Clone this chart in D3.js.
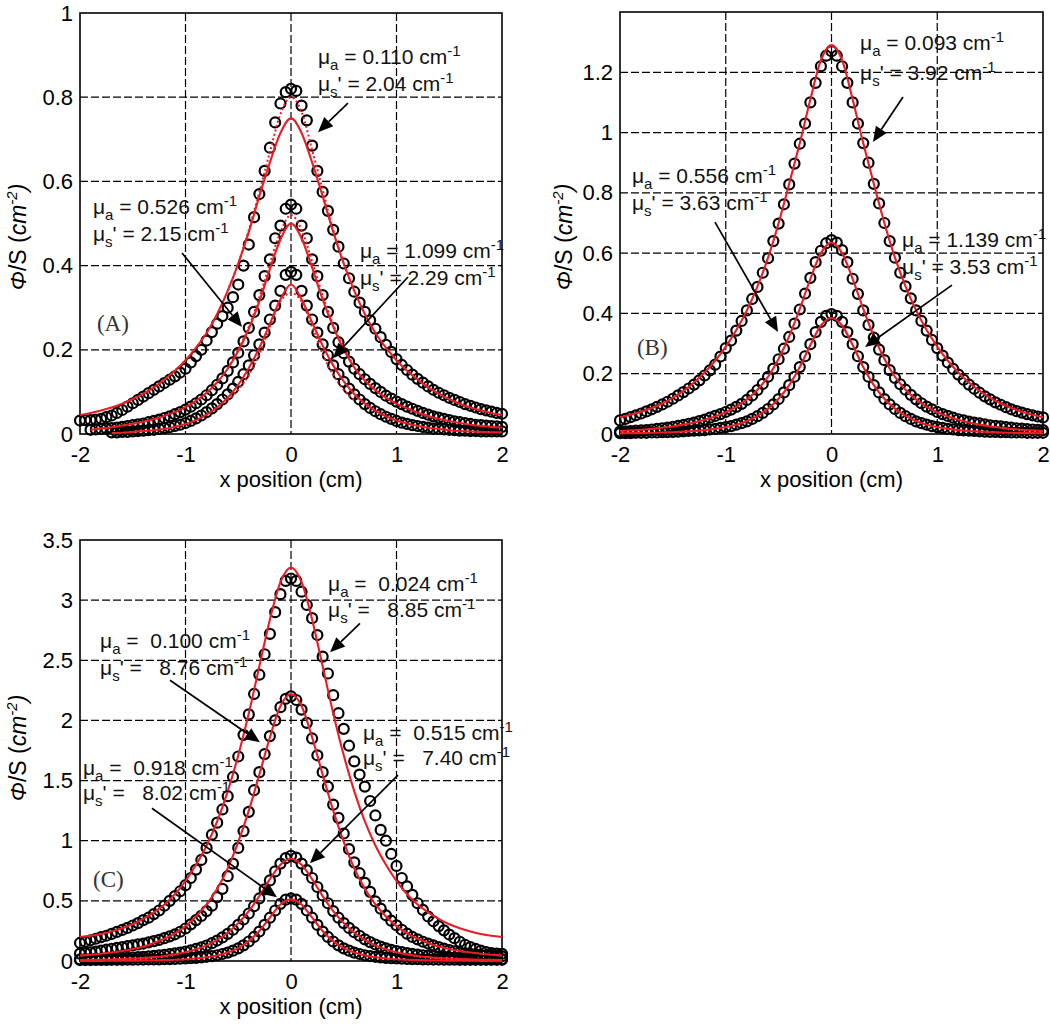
<!DOCTYPE html>
<html><head><meta charset="utf-8">
<script src="https://cdn.jsdelivr.net/npm/d3@7"></script>
<style>body{margin:0;background:#fff}svg{display:block}text{white-space:pre}</style>
</head><body>
<svg id="chart" width="1050" height="1024"></svg>
<script>
// ---------- x positions (cm) ----------
const xsDots = [-2,-1.95,-1.9,-1.85,-1.8,-1.75,-1.7,-1.65,-1.6,-1.55,-1.5,-1.45,-1.4,-1.35,-1.3,-1.25,-1.2,-1.15,-1.1,-1.05,-1,-0.95,-0.9,-0.85,-0.8,-0.75,-0.7,-0.65,-0.6,-0.55,-0.5,-0.45,-0.4,-0.35,-0.3,-0.25,-0.2,-0.15,-0.1,-0.05,0,0.05,0.1,0.15,0.2,0.25,0.3,0.35,0.4,0.45,0.5,0.55,0.6,0.65,0.7,0.75,0.8,0.85,0.9,0.95,1,1.05,1.1,1.15,1.2,1.25,1.3,1.35,1.4,1.45,1.5,1.55,1.6,1.65,1.7,1.75,1.8,1.85,1.9,1.95,2];
const xsLine = [-2,-1.9,-1.8,-1.7,-1.6,-1.5,-1.4,-1.3,-1.2,-1.1,-1,-0.9,-0.8,-0.7,-0.6,-0.5,-0.4,-0.3,-0.2,-0.1,0,0.1,0.2,0.3,0.4,0.5,0.6,0.7,0.8,0.9,1,1.1,1.2,1.3,1.4,1.5,1.6,1.7,1.8,1.9,2];
const xsDotted = [-0.6,-0.5,-0.4,-0.3,-0.2,-0.1,0,0.1,0.2,0.3,0.4,0.5,0.6];

// ---------- tick labels ----------
const xTicks = [-2,-1,0,1,2];
const yTicksA = [0,0.2,0.4,0.6,0.8,1];
const yTicksB = [0,0.2,0.4,0.6,0.8,1,1.2];
const yTicksC = [0,0.5,1,1.5,2,2.5,3,3.5];

// ---------- Panel A : measured (circles) ----------
const measA1 = [0.032,0.033,0.033,0.034,0.036,0.04,0.044,0.05,0.057,0.065,0.073,0.081,0.089,0.097,0.105,0.113,0.121,0.129,0.137,0.146,0.155,0.17,0.185,0.2,0.222,0.242,0.262,0.28,0.3,0.325,0.355,0.4,0.45,0.515,0.57,0.625,0.68,0.74,0.785,0.812,
 0.82,
 0.815,0.78,0.745,0.685,0.625,0.575,0.53,0.485,0.445,0.405,0.37,0.338,0.312,0.29,0.27,0.25,0.23,0.212,0.195,0.178,0.164,0.152,0.141,0.131,0.122,0.113,0.105,0.098,0.092,0.086,0.081,0.076,0.071,0.067,0.063,0.059,0.056,0.053,0.05,0.048];
const measA2 = [null,null,0.01,0.011,0.012,0.013,0.014,0.015,0.017,0.019,0.021,0.023,0.025,0.028,0.031,0.034,0.038,0.042,0.047,0.052,0.058,0.065,0.073,0.082,0.092,0.104,0.117,0.132,0.15,0.17,0.193,0.22,0.252,0.29,0.33,0.375,0.415,0.465,0.495,0.535,
 0.545,
 0.535,0.495,0.465,0.415,0.375,0.33,0.29,0.252,0.218,0.192,0.172,0.155,0.142,0.13,0.119,0.109,0.1,0.091,0.084,0.077,0.071,0.065,0.06,0.055,0.05,0.046,0.042,0.039,0.036,0.033,0.03,0.028,0.026,0.024,0.022,0.021,0.02,0.019,0.018,0.017];
const measA3 = [null,null,null,null,null,null,0.004,0.004,0.005,0.005,0.006,0.007,0.008,0.009,0.01,0.012,0.014,0.016,0.019,0.022,0.026,0.031,0.037,0.044,0.052,0.061,0.071,0.082,0.094,0.108,0.124,0.142,0.163,0.187,0.213,0.241,0.272,0.305,0.34,0.378,
 0.385,
 0.378,0.34,0.305,0.272,0.241,0.213,0.187,0.163,0.142,0.124,0.108,0.094,0.082,0.071,0.062,0.054,0.047,0.041,0.036,0.031,0.027,0.024,0.021,0.019,0.017,0.015,0.013,0.012,0.011,0.01,0.009,0.008,0.008,0.007,0.007,0.006,0.006,0.006,0.006,0.006];
// Panel A : model (red solid)
const fitA1 = [0.045,0.05,0.056,0.063,0.072,0.083,0.096,0.111,0.129,0.15,0.175,0.205,0.24,0.285,0.34,0.405,0.48,0.565,0.645,0.715,0.75,0.715,0.645,0.565,0.48,0.405,0.34,0.285,0.24,0.205,0.175,0.15,0.129,0.111,0.096,0.083,0.072,0.063,0.056,0.05,0.045];
const fitA2 = [null,0.01,0.013,0.016,0.02,0.024,0.029,0.035,0.043,0.052,0.064,0.079,0.098,0.123,0.155,0.197,0.25,0.315,0.392,0.462,0.5,0.465,0.395,0.32,0.255,0.2,0.158,0.127,0.104,0.086,0.072,0.061,0.051,0.043,0.036,0.031,0.026,0.022,0.019,0.017,0.015];
const fitA3 = [null,null,null,0.002,0.003,0.005,0.007,0.009,0.012,0.017,0.024,0.033,0.046,0.063,0.086,0.117,0.157,0.205,0.262,0.32,0.355,0.32,0.265,0.21,0.163,0.125,0.095,0.072,0.055,0.042,0.032,0.025,0.019,0.015,0.012,0.009,0.007,0.006,0.005,0.004,0.004];
// Panel A : model (red dotted)
const dotA1 = [0.34,0.405,0.485,0.575,0.67,0.76,0.8,0.765,0.675,0.58,0.485,0.405,0.34];
const dotA2 = [0.157,0.2,0.255,0.325,0.405,0.48,0.52,0.485,0.41,0.33,0.26,0.205,0.16];
const dotA3 = [0.08,0.105,0.14,0.19,0.255,0.315,0.335,0.315,0.255,0.19,0.14,0.105,0.08];

// ---------- Panel B ----------
const measB1 = [0.045,0.05,0.056,0.062,0.068,0.075,0.082,0.09,0.098,0.107,0.117,0.128,0.139,0.151,0.164,0.178,0.194,0.211,0.23,0.257,0.285,0.31,0.343,0.375,0.41,0.448,0.488,0.535,0.583,0.64,0.698,0.762,0.828,0.897,0.963,1.03,1.1,1.165,1.22,1.255,
 1.27,
 1.255,1.22,1.165,1.1,1.03,0.965,0.9,0.83,0.765,0.7,0.64,0.585,0.535,0.49,0.45,0.41,0.375,0.343,0.312,0.285,0.26,0.237,0.216,0.197,0.18,0.164,0.15,0.137,0.125,0.115,0.105,0.097,0.089,0.082,0.076,0.071,0.066,0.062,0.058,0.055];
const measB2 = [0.008,0.009,0.01,0.011,0.012,0.013,0.015,0.017,0.019,0.021,0.024,0.027,0.03,0.034,0.038,0.043,0.048,0.054,0.06,0.066,0.073,0.081,0.09,0.1,0.113,0.128,0.146,0.166,0.19,0.217,0.248,0.283,0.322,0.366,0.413,0.466,0.518,0.57,0.608,0.633,
 0.643,
 0.635,0.61,0.57,0.515,0.465,0.41,0.362,0.32,0.28,0.245,0.212,0.186,0.165,0.147,0.13,0.115,0.102,0.091,0.082,0.073,0.066,0.06,0.054,0.049,0.045,0.041,0.038,0.035,0.032,0.029,0.027,0.025,0.023,0.021,0.019,0.018,0.016,0.015,0.014,0.013];
const measB3 = [0.003,0.003,0.003,0.004,0.004,0.004,0.005,0.005,0.006,0.006,0.007,0.008,0.009,0.01,0.011,0.012,0.013,0.015,0.017,0.02,0.023,0.026,0.031,0.036,0.042,0.05,0.059,0.07,0.083,0.098,0.116,0.138,0.162,0.19,0.222,0.258,0.298,0.338,0.372,0.392,
 0.398,
 0.392,0.372,0.338,0.298,0.258,0.222,0.19,0.162,0.138,0.116,0.098,0.083,0.07,0.059,0.05,0.042,0.036,0.031,0.026,0.023,0.02,0.017,0.015,0.013,0.012,0.011,0.01,0.009,0.008,0.007,0.007,0.006,0.006,0.005,0.005,0.005,0.004,0.004,0.004,0.004];
const fitB1 = [0.056,0.064,0.074,0.086,0.101,0.12,0.143,0.171,0.204,0.243,0.29,0.345,0.41,0.49,0.585,0.7,0.83,0.965,1.11,1.24,1.29,1.24,1.11,0.965,0.83,0.7,0.585,0.49,0.41,0.345,0.29,0.243,0.204,0.171,0.143,0.12,0.101,0.086,0.074,0.064,0.056];
const fitB2 = [0.01,0.012,0.014,0.017,0.021,0.025,0.031,0.038,0.047,0.058,0.072,0.09,0.115,0.147,0.19,0.25,0.325,0.415,0.515,0.6,0.635,0.6,0.515,0.415,0.325,0.25,0.19,0.147,0.115,0.09,0.072,0.058,0.047,0.038,0.031,0.025,0.021,0.017,0.014,0.012,0.01];
const fitB3 = [0.002,0.003,0.003,0.004,0.005,0.006,0.008,0.01,0.013,0.017,0.023,0.031,0.043,0.06,0.084,0.117,0.162,0.222,0.295,0.36,0.385,0.36,0.295,0.222,0.162,0.117,0.084,0.06,0.043,0.031,0.023,0.017,0.013,0.01,0.008,0.006,0.005,0.004,0.003,0.003,0.002];

// ---------- Panel C ----------
const measC1 = [0.15,0.16,0.172,0.185,0.198,0.21,0.225,0.242,0.258,0.275,0.295,0.315,0.34,0.36,0.39,0.42,0.46,0.5,0.54,0.58,0.63,0.69,0.76,0.84,0.94,1.05,1.15,1.26,1.37,1.53,1.7,1.88,2.05,2.22,2.38,2.55,2.72,2.9,3.05,3.16,
 3.18,
 3.16,3.07,2.96,2.85,2.71,2.53,2.39,2.21,2.06,1.93,1.79,1.66,1.55,1.45,1.33,1.21,1.09,1.0,0.89,0.79,0.69,0.62,0.55,0.48,0.425,0.37,0.33,0.29,0.255,0.22,0.19,0.16,0.135,0.115,0.1,0.087,0.075,0.066,0.062,0.06];
const measC2 = [0.061,0.066,0.072,0.078,0.086,0.094,0.102,0.109,0.116,0.123,0.13,0.138,0.145,0.155,0.165,0.176,0.19,0.205,0.222,0.243,0.27,0.305,0.34,0.375,0.415,0.46,0.53,0.6,0.705,0.81,0.94,1.08,1.24,1.42,1.57,1.72,1.87,2.0,2.11,2.18,
 2.2,
 2.17,2.09,1.98,1.85,1.71,1.57,1.45,1.3,1.19,1.06,0.93,0.82,0.73,0.65,0.575,0.495,0.435,0.38,0.335,0.297,0.26,0.227,0.2,0.18,0.16,0.145,0.13,0.116,0.103,0.091,0.081,0.072,0.064,0.059,0.055,0.051,0.048,0.045,0.042,0.039];
const measC3 = [0.014,0.015,0.016,0.017,0.018,0.019,0.021,0.023,0.025,0.027,0.029,0.032,0.035,0.038,0.042,0.046,0.051,0.057,0.063,0.07,0.079,0.089,0.1,0.113,0.129,0.148,0.17,0.196,0.226,0.26,0.3,0.345,0.395,0.455,0.52,0.595,0.67,0.745,0.81,0.855,
 0.875,
 0.86,0.81,0.755,0.69,0.615,0.545,0.48,0.415,0.36,0.315,0.275,0.24,0.21,0.18,0.157,0.137,0.12,0.105,0.093,0.083,0.074,0.066,0.059,0.053,0.048,0.044,0.04,0.037,0.034,0.031,0.029,0.027,0.025,0.023,0.021,0.02,0.019,0.018,0.017,0.016];
const measC4 = [0.008,0.008,0.008,0.009,0.009,0.009,0.01,0.01,0.01,0.011,0.011,0.012,0.012,0.013,0.013,0.014,0.015,0.016,0.017,0.019,0.021,0.023,0.026,0.03,0.035,0.041,0.048,0.058,0.07,0.086,0.105,0.13,0.162,0.2,0.245,0.3,0.36,0.42,0.475,0.51,
 0.52,
 0.51,0.475,0.42,0.36,0.3,0.245,0.2,0.162,0.13,0.105,0.086,0.07,0.058,0.048,0.041,0.035,0.03,0.026,0.023,0.021,0.019,0.017,0.016,0.015,0.014,0.013,0.012,0.012,0.011,0.011,0.011,0.01,0.01,0.01,0.01,0.01,0.01,0.01,0.01,0.01];
const fitC1 = [0.2,0.21,0.225,0.245,0.272,0.305,0.35,0.405,0.47,0.555,0.665,0.8,0.96,1.16,1.41,1.71,2.06,2.45,2.84,3.15,3.27,3.15,2.84,2.45,2.06,1.71,1.41,1.16,0.96,0.8,0.665,0.555,0.47,0.405,0.35,0.305,0.272,0.245,0.225,0.21,0.2];
const fitC2 = [0.045,0.052,0.06,0.07,0.083,0.1,0.12,0.15,0.185,0.23,0.29,0.37,0.47,0.6,0.77,0.99,1.25,1.55,1.86,2.12,2.22,2.12,1.86,1.55,1.25,0.99,0.77,0.6,0.47,0.37,0.29,0.23,0.185,0.15,0.12,0.1,0.083,0.07,0.06,0.052,0.045];
const fitC3 = [0.008,0.009,0.011,0.013,0.016,0.02,0.025,0.032,0.042,0.055,0.073,0.097,0.13,0.175,0.235,0.315,0.415,0.54,0.68,0.8,0.85,0.8,0.68,0.54,0.415,0.315,0.235,0.175,0.13,0.097,0.073,0.055,0.042,0.032,0.025,0.02,0.016,0.013,0.011,0.009,0.008];
const fitC4 = [0.001,0.001,0.001,0.002,0.002,0.003,0.004,0.005,0.007,0.01,0.014,0.021,0.031,0.046,0.07,0.107,0.165,0.25,0.36,0.47,0.51,0.47,0.36,0.25,0.165,0.107,0.07,0.046,0.031,0.021,0.014,0.01,0.007,0.005,0.004,0.003,0.002,0.002,0.001,0.001,0.001];

// ---------- annotation texts ----------
const labelsA = [["a"," = 0.110 cm","s","' = 2.04 cm"],["a"," = 0.526 cm","s","' = 2.15 cm"],["a"," = 1.099 cm","s","' = 2.29 cm"]];
const labelsB = [["a"," = 0.093 cm","s","' = 3.92 cm"],["a"," = 0.556 cm","s","' = 3.63 cm"],["a"," = 1.139 cm","s","' = 3.53 cm"]];
const labelsC = [["a"," =  0.024 cm","s","' =   8.85 cm"],["a"," =  0.100 cm","s","' =   8.76 cm"],["a"," =  0.515 cm","s","' =   7.40 cm"],["a"," =  0.918 cm","s","' =   8.02 cm"]];
const panelLetters = ["(A)","(B)","(C)"];

// ---------- layout / styling ----------
const FONT = "'Liberation Sans', Arial, Helvetica, sans-serif";
const RED = "#ec1c24";
const svg = d3.select("#chart");

const panels = [
 {left:80, right:502, top:13, bottom:434, ymax:1, yTicks:yTicksA, ytx:26, yty:237,
  meas:[measA1,measA2,measA3], fit:[fitA1,fitA2,fitA3], dotted:[dotA1,dotA2,dotA3], letter:panelLetters[0], lx:-1.84, ly:0.245,
  ann:[
   {lab:labelsA[0], tx:0.256, t1:0.879, t2:0.815, a:[0.54,0.786,0.256,0.717]},
   {lab:labelsA[1], tx:-1.877, t1:0.5226, t2:0.458, a:[-1.033,0.43,-0.464,0.254]},
   {lab:labelsA[2], tx:0.654, t1:0.418, t2:0.354, a:[1.109,0.373,0.398,0.18]}]},
 {left:620, right:1043, top:12, bottom:434, ymax:1.4, yTicks:yTicksB, ytx:572, yty:237,
  meas:[measB1,measB2,measB3], fit:[fitB1,fitB2,fitB3], dotted:[], letter:panelLetters[1], lx:-1.84, ly:0.262,
  ann:[
   {lab:labelsB[0], tx:0.27, t1:1.274, t2:1.175, a:[0.676,1.118,0.392,0.969]},
   {lab:labelsB[1], tx:-1.887, t1:0.833, t2:0.743, a:[-1.102,0.703,-0.506,0.338]},
   {lab:labelsB[2], tx:0.667, t1:0.62, t2:0.531, a:[1.139,0.494,0.317,0.289]}]},
 {left:80, right:502, top:540, bottom:961, ymax:3.5, yTicks:yTicksC, ytx:26, yty:748,
  meas:[measC1,measC2,measC3,measC4], fit:[fitC1,fitC2,fitC3,fitC4], dotted:[], letter:panelLetters[2], lx:-1.877, ly:0.614,
  ann:[
   {lab:labelsC[0], tx:0.351, t1:3.08, t2:2.857, a:[0.654,2.807,0.37,2.566]},
   {lab:labelsC[1], tx:-1.81, t1:2.6, t2:2.375, a:[-1.147,2.334,-0.294,1.819]},
   {lab:labelsC[2], tx:0.682, t1:1.835, t2:1.627, a:[1.014,1.545,0.18,0.813]},
   {lab:labelsC[3], tx:-1.972, t1:1.544, t2:1.336, a:[-1.318,1.27,-0.133,0.53]}]}
];

function drawPanel(p) {
  const g = svg.append("g");
  const x = d3.scaleLinear().domain([-2, 2]).range([p.left, p.right]);
  const y = d3.scaleLinear().domain([0, p.ymax]).range([p.bottom, p.top]);

  // grid
  const grid = g.append("g").attr("stroke", "#000").attr("stroke-width", 1.2).attr("stroke-dasharray", "8,3");
  grid.selectAll(".vg").data(xTicks.filter(d => d > -2 && d < 2)).join("line")
    .attr("x1", d => x(d)).attr("x2", d => x(d)).attr("y1", p.top).attr("y2", p.bottom);
  grid.selectAll(".hg").data(p.yTicks.filter(d => d > 0 && d < p.ymax)).join("line")
    .attr("x1", p.left).attr("x2", p.right).attr("y1", d => y(d)).attr("y2", d => y(d));
  // frame
  g.append("rect").attr("x", p.left).attr("y", p.top).attr("width", p.right - p.left).attr("height", p.bottom - p.top)
    .attr("fill", "none").attr("stroke", "#000").attr("stroke-width", 1.6);

  // axes
  const ax = g.append("g").attr("transform", `translate(0,${p.bottom})`)
    .call(d3.axisBottom(x).tickValues(xTicks).tickSize(0).tickPadding(12).tickFormat(d => String(d)));
  const ay = g.append("g").attr("transform", `translate(${p.left},0)`)
    .call(d3.axisLeft(y).tickValues(p.yTicks).tickSize(0).tickPadding(7).tickFormat(d => String(d)));
  [ax, ay].forEach(a => {
    a.select(".domain").remove();
    a.attr("font-family", FONT).attr("font-size", 22);
    a.selectAll("text").attr("fill", "#000");
  });

  // measured circles
  p.meas.forEach(arr => {
    const pts = xsDots.map((xv, i) => [xv, arr[i]]).filter(d => d[1] != null);
    g.append("g").selectAll("circle").data(pts).join("circle")
      .attr("cx", d => x(d[0])).attr("cy", d => y(d[1])).attr("r", 5)
      .attr("fill", "none").attr("stroke", "#000").attr("stroke-width", 2.2);
  });
  // model lines
  const line = d3.line().defined(d => d[1] != null).x(d => x(d[0])).y(d => y(d[1])).curve(d3.curveMonotoneX);
  p.fit.forEach(arr => {
    g.append("path").datum(xsLine.map((xv, i) => [xv, arr[i]]))
      .attr("d", line).attr("fill", "none").attr("stroke", RED).attr("stroke-width", 2.1);
  });
  p.dotted.forEach(arr => {
    g.append("path").datum(xsDotted.map((xv, i) => [xv, arr[i]]))
      .attr("d", line).attr("fill", "none").attr("stroke", RED).attr("stroke-width", 2).attr("stroke-dasharray", "2,2.5");
  });

  // annotations
  p.ann.forEach(a => {
    const mk = (ty, sub, rest) => {
      const t = g.append("text").attr("x", x(a.tx)).attr("y", y(ty))
        .attr("font-family", FONT).attr("font-size", 21).attr("fill", "#111");
      t.append("tspan").text("\u03bc");
      t.append("tspan").attr("dy", 6).attr("font-size", 15).text(sub);
      t.append("tspan").attr("dy", -6).text(rest);
      t.append("tspan").attr("dy", -8).attr("font-size", 15).text("-1");
    };
    mk(a.t1, a.lab[0], a.lab[1]);
    mk(a.t2, a.lab[2], a.lab[3]);
    // arrow
    const x1 = x(a.a[0]), y1 = y(a.a[1]), x2 = x(a.a[2]), y2 = y(a.a[3]);
    const ang = Math.atan2(y2 - y1, x2 - x1), L = 15, W = 6.5;
    const bx = x2 - L * Math.cos(ang), by = y2 - L * Math.sin(ang);
    g.append("line").attr("x1", x1).attr("y1", y1).attr("x2", bx).attr("y2", by)
      .attr("stroke", "#000").attr("stroke-width", 1.7);
    g.append("polygon").attr("fill", "#000").attr("points", [
      [x2, y2],
      [bx + W * Math.sin(ang), by - W * Math.cos(ang)],
      [bx - W * Math.sin(ang), by + W * Math.cos(ang)]].map(q => q.join(",")).join(" "));
  });

  // panel letter
  g.append("text").attr("x", x(p.lx)).attr("y", y(p.ly)).attr("font-family", "'Liberation Serif', 'Times New Roman', serif")
    .attr("font-size", 23).attr("fill", "#333").text(p.letter);

  // axis titles
  g.append("text").attr("x", (p.left + p.right) / 2).attr("y", p.bottom + 53).attr("text-anchor", "middle")
    .attr("font-family", FONT).attr("font-size", 22).attr("fill", "#000").text("x position (cm)");
  const yt = g.append("text").attr("transform", `translate(${p.ytx},${p.yty}) rotate(-90)`).attr("text-anchor", "middle")
    .attr("font-family", FONT).attr("font-size", 23).attr("fill", "#000");
  yt.append("tspan").attr("font-style", "italic").text("\u03a6");
  yt.append("tspan").text("/S (");
  yt.append("tspan").attr("font-style", "italic").text("cm");
  yt.append("tspan").attr("dy", -9).attr("font-size", 15).attr("font-style", "italic").text("-2");
  yt.append("tspan").attr("dy", 9).attr("font-style", "italic").text(")");
}

panels.forEach(drawPanel);
</script>
</body></html>
